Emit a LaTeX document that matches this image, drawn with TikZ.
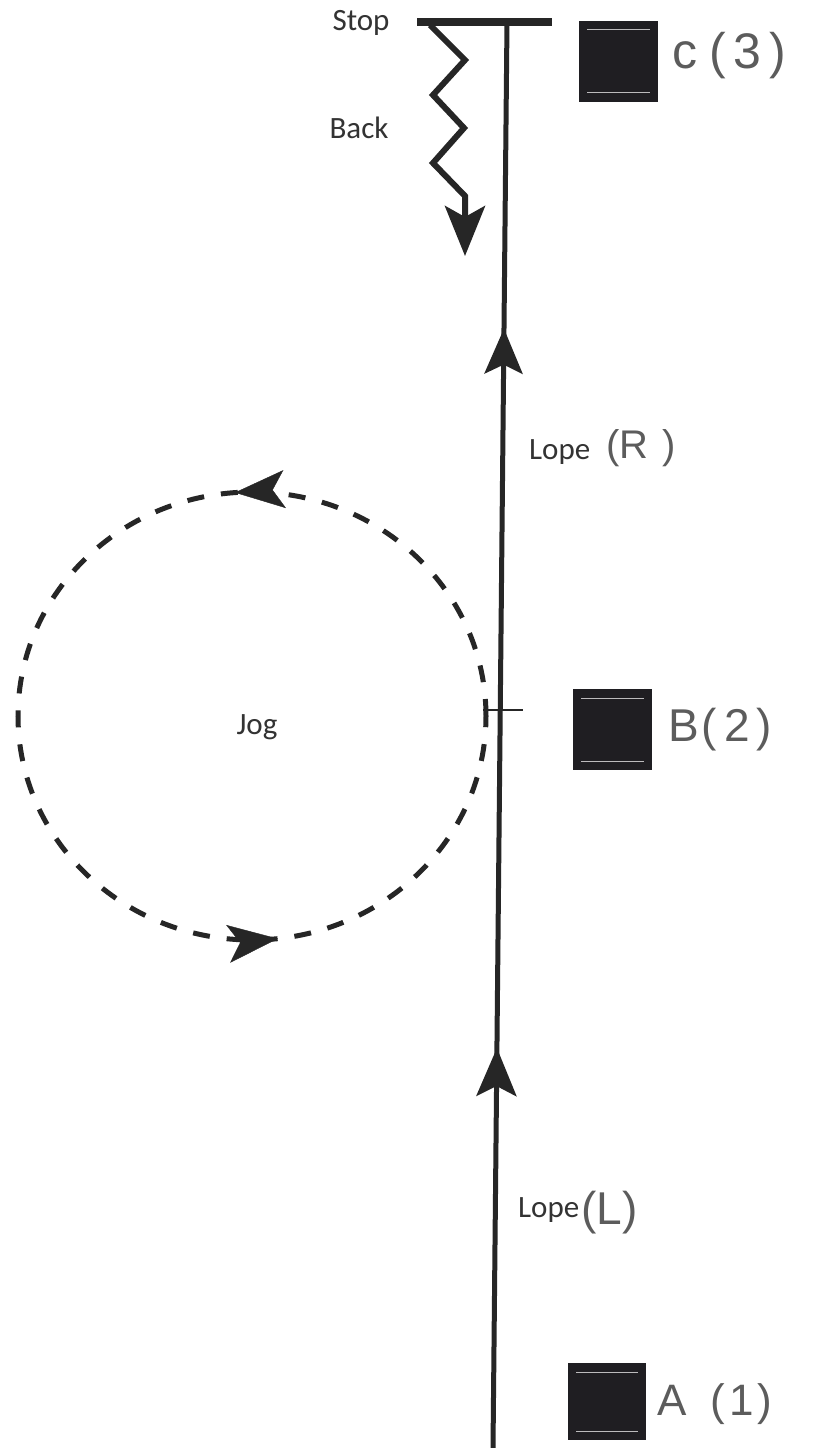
\documentclass[tikz,border=0pt]{standalone}
\usepackage{fontspec}
\setmainfont{Carlito}
\newfontfamily\hand{Liberation Sans}
\usetikzlibrary{arrows.meta,decorations.markings}
\definecolor{ink}{HTML}{262626}
\definecolor{boxc}{HTML}{1F1E22}
\definecolor{txt}{HTML}{333333}
\definecolor{handc}{HTML}{5C5C5C}
\tikzset{
  mainline/.style={draw=ink, line width=5pt},
  markbox/.style={fill=boxc, inner sep=0pt, minimum width=79pt, minimum height=80pt,
    path picture={
      \draw[white!70!boxc, line width=0.8pt]
        ([xshift=8pt,yshift=-9pt]path picture bounding box.north west) --
        ([xshift=-8pt,yshift=-9pt]path picture bounding box.north east);
      \draw[white!70!boxc, line width=0.8pt]
        ([xshift=8pt,yshift=9pt]path picture bounding box.south west) --
        ([xshift=-8pt,yshift=9pt]path picture bounding box.south east);
    }},
  lbl/.style={text=txt, inner sep=0pt, font=\fontsize{31}{31}\selectfont},
  handlbl/.style={text=handc, inner sep=0pt, anchor=west, font=\hand\fontsize{46}{46}\selectfont},
}
\begin{document}
\begin{tikzpicture}[x=1pt,y=1pt]
\useasboundingbox (0,0) rectangle (817,-1448);
\fill[white] (0,0) rectangle (817,-1448);

% main route
\coordinate (start) at (493,-1448);
\coordinate (top) at (507,-22);
\draw[mainline, postaction={decorate}, decoration={markings,
   mark=at position 0.2805 with {\arrow[ink]{Stealth[length=48pt,width=40pt,inset=10pt]}},
   mark=at position 0.785 with {\arrow[ink]{Stealth[length=45pt,width=38pt,inset=9pt]}}}]
   (start) -- (top);

% stop bar
\coordinate (barL) at (417,-22);
\coordinate (barR) at (552,-22);
\draw[ink, line width=8.5pt] (barL) -- (barR);

% back zigzag
\coordinate (zz0) at (430,-25);
\coordinate (backend) at (465,-256);
\draw[ink, line width=6pt, line join=miter, -{Stealth[length=50pt,width=40pt,inset=11pt]}]
  (zz0) -- (465,-60) -- (433,-95) -- (464,-128) -- (433,-163) -- (465,-196) -- (backend);

% B tick
\coordinate (tickL) at (483,-710);
\coordinate (tickR) at (523,-710);
\draw[ink, line width=2pt] (tickL) -- (tickR);

% jog loop
\coordinate (jogc) at (252,-716);
\draw[ink, line width=5pt, dash pattern=on 17pt off 17pt] (jogc) ellipse [x radius=234, y radius=224];
\path[postaction={decorate}, decoration={markings,
   mark=at position 0.262 with {\arrow[ink]{Stealth[length=50pt,width=38pt,inset=12pt]}},
   mark=at position 0.768 with {\arrow[ink]{Stealth[length=50pt,width=38pt,inset=12pt]}}}]
   (jogc) ++(234,0) arc [start angle=0, end angle=360, x radius=234, y radius=224];

% text labels
\node[lbl] (stop) at (361,-23) {Stop};
\node[lbl] (back) at (359,-128) {Back};
\node[lbl] (jog) at (257,-727) {Jog};
\node[lbl, anchor=west] (lopeR) at (529,-452) {Lope};
\node[handlbl, font=\hand\fontsize{40}{40}\selectfont] (lopeRh) at (606,-448) {(R\hspace{14pt})};
\node[lbl, anchor=west] (lopeL) at (518,-1210) {Lope};
\node[handlbl] (lopeLh) at (581,-1213) {(L)};

% markers
\node[markbox, minimum height=81pt] (C) at (618.5,-61) {};
\node[markbox, minimum height=81pt] (B) at (612.5,-729.5) {};
\node[markbox, minimum width=78pt, minimum height=77pt] (A) at (607,-1401.5) {};
\node[handlbl, font=\hand\fontsize{50}{50}\selectfont] (Cl) at (672,-56) {c\hspace{12pt}(\hspace{8pt}3\hspace{8pt})};
\node[handlbl] (Bl) at (668,-730) {B\hspace{3pt}(\hspace{7pt}2\hspace{7pt})};
\node[handlbl, font=\hand\fontsize{44}{44}\selectfont] (Al) at (657,-1404) {A\hspace{24pt}(\hspace{4pt}1\hspace{4pt})};
\end{tikzpicture}
\end{document}
